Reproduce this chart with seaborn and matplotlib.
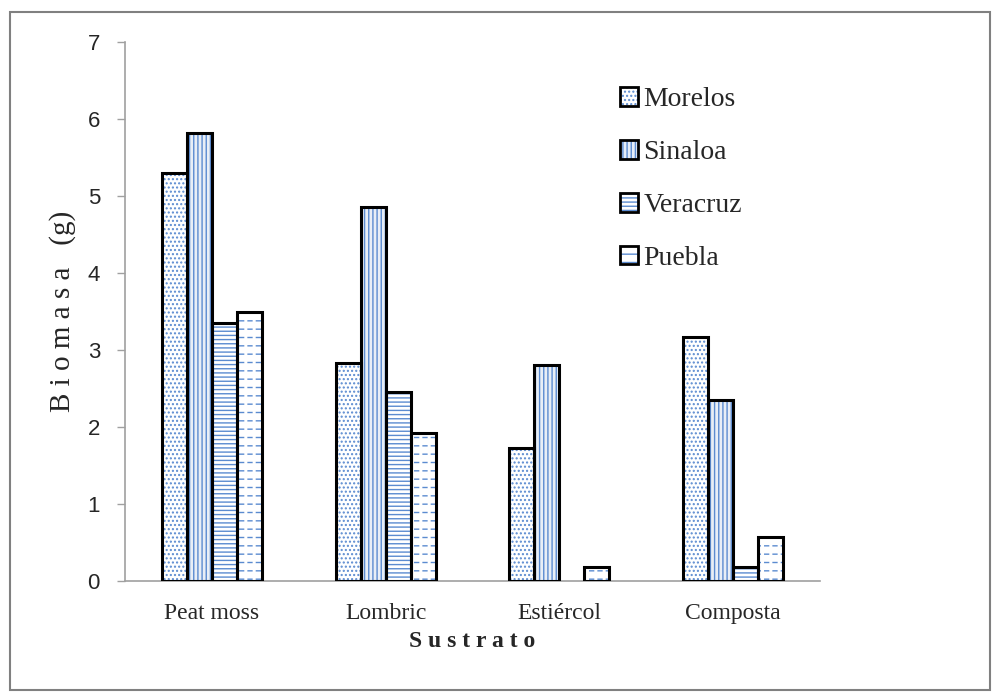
import numpy as np
import pandas as pd
import matplotlib
matplotlib.use("Agg")
import matplotlib.pyplot as plt
from matplotlib.patches import Rectangle, Patch
import seaborn as sns

# datos
sustratos = ["Peat moss", "Lombric", "Estiércol", "Composta"]
estados = ["Morelos", "Sinaloa", "Veracruz", "Puebla"]
morelos = [5.30, 2.83, 1.73, 3.17]
sinaloa = [5.82, 4.86, 2.81, 2.35]
veracruz = [3.35, 2.46, np.nan, 0.18]
puebla = [3.49, 1.92, 0.18, 0.57]

valores = {"Morelos": morelos, "Sinaloa": sinaloa, "Veracruz": veracruz, "Puebla": puebla}
filas = []
for est in estados:
    for sus, v in zip(sustratos, valores[est]):
        filas.append({"Sustrato": sus, "Estado": est, "Biomasa": v})
df = pd.DataFrame(filas)

sns.set_style("white")
plt.rcParams["hatch.linewidth"] = 1.0
azul = "#5B8BD0"
serif = ["Liberation Serif", "DejaVu Serif"]
tramas = {"Morelos": "....", "Sinaloa": "||||", "Veracruz": "----", "Puebla": "--"}
fondos = {"Morelos": "white", "Sinaloa": "#E6EDF8", "Veracruz": "white", "Puebla": "white"}

fig = plt.figure(figsize=(10, 7), dpi=100)
ax = fig.add_axes([0.125, 0.17, 0.695, 0.77])

sns.barplot(data=df, x="Sustrato", y="Biomasa", hue="Estado", hue_order=estados,
            order=sustratos, width=0.575, gap=0, errorbar=None,
            palette=[fondos[e] for e in estados], edgecolor=azul, linewidth=0,
            ax=ax, legend=False)

# trama azul + contorno negro
for est, cont in zip(estados, ax.containers):
    for p in cont.patches:
        h = p.get_height()
        if not np.isfinite(h) or h <= 0:
            p.set_visible(False)
            continue
        p.set_hatch(tramas[est])
        p.set_edgecolor(azul)
        x0, w = p.get_x(), p.get_width()
        if est == "Puebla":
            # líneas blancas verticales que parten las rayas en guiones
            plt.rcParams["hatch.linewidth"] = 2.2
            corte = Rectangle((x0, 0), w, h, fill=False, edgecolor="white",
                              linewidth=0, hatch="||", zorder=2.5)
            plt.rcParams["hatch.linewidth"] = 1.0
            if hasattr(corte, "set_hatch_linewidth"):
                corte.set_hatch_linewidth(2.2)
            ax.add_patch(corte)
        ax.add_patch(Rectangle((x0, 0), w, h, fill=False, edgecolor="black",
                               linewidth=2.2, zorder=3))

ax.set_ylim(0, 7)
ax.set_xlim(-0.5, 3.5)
ax.set_yticks(range(0, 8))
ax.tick_params(axis="y", direction="out", length=6, width=1, color="#A0A0A0",
               labelsize=16, pad=12, left=True)
ax.tick_params(axis="x", length=0, pad=16)
for lab in ax.get_xticklabels():
    lab.set_family(serif)
    lab.set_fontsize(17)
for lab in ax.get_yticklabels():
    lab.set_family(["Liberation Sans", "DejaVu Sans"])

for s in ["top", "right"]:
    ax.spines[s].set_visible(False)
for s in ["left", "bottom"]:
    ax.spines[s].set_color("#A0A0A0")
    ax.spines[s].set_linewidth(1.2)

ax.set_ylabel("B i o m a s a   (g)", family=serif, fontsize=21, labelpad=8)
ax.set_xlabel("S u s t r a t o", family=serif, fontsize=17, fontweight="bold", labelpad=5)

manejadores = []
for est in estados:
    trama = Patch(facecolor=fondos[est], edgecolor=azul, hatch=tramas[est], linewidth=0)
    borde = Patch(facecolor="none", edgecolor="black", linewidth=2)
    manejadores.append((trama, borde))
ax.legend(manejadores, estados, loc="upper left", bbox_to_anchor=(0.606, 0.895),
          bbox_transform=fig.transFigure, frameon=False, borderpad=0,
          prop={"family": serif, "size": 20}, labelspacing=1.0,
          handlelength=0.65, handleheight=0.65, handletextpad=0.2)

fig.patches.append(Rectangle((0.01, 0.014), 0.98, 0.969, transform=fig.transFigure,
                             fill=False, edgecolor="#808080", linewidth=1.5))

fig.savefig("out.png", dpi=100)
